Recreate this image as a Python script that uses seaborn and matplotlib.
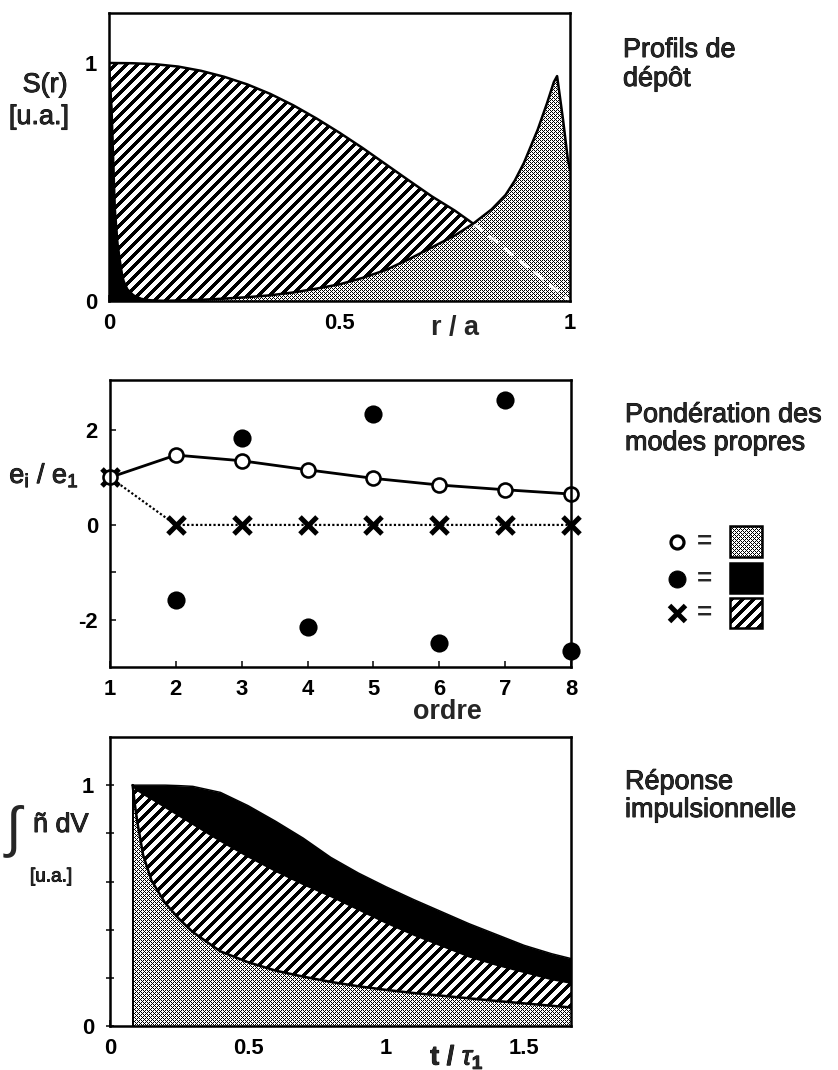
import numpy as np
import matplotlib
matplotlib.use("Agg")
import matplotlib.pyplot as plt
from matplotlib import patheffects
from matplotlib.patches import Rectangle
import seaborn as sns

# ---------------- Profils de dépôt : S(r) ----------------
r_hatch = [0.0, 0.05, 0.1, 0.15, 0.2, 0.25, 0.3, 0.35, 0.4, 0.45, 0.5, 0.55, 0.6,
           0.65, 0.7, 0.75, 0.79, 0.85, 0.9, 0.95, 1.0]
s_hatch = [1.0, 0.999, 0.995, 0.985, 0.967, 0.942, 0.91, 0.87, 0.822, 0.767, 0.707,
           0.643, 0.575, 0.507, 0.44, 0.38, 0.325, 0.235, 0.155, 0.078, 0.0]

r_black = [0.0, 0.003, 0.006, 0.0095, 0.013, 0.019, 0.024, 0.028, 0.032, 0.04,
           0.053, 0.07, 0.09, 0.12]
s_black = [1.0, 0.9, 0.81, 0.6, 0.39, 0.24, 0.17, 0.12, 0.085, 0.05,
           0.025, 0.01, 0.004, 0.0]

r_dots = [0.0, 0.1, 0.15, 0.2, 0.25, 0.3, 0.35, 0.4, 0.45, 0.5, 0.55, 0.6, 0.65,
          0.7, 0.75, 0.79, 0.83, 0.86, 0.88, 0.9, 0.93, 0.95, 0.965, 0.972,
          0.978, 0.985, 0.99, 0.995, 1.0]
s_dots = [0.0, 0.0, 0.002, 0.005, 0.01, 0.016, 0.024, 0.036, 0.052, 0.07, 0.097,
          0.13, 0.175, 0.225, 0.275, 0.325, 0.385, 0.445, 0.505, 0.58, 0.72, 0.83,
          0.92, 0.945, 0.86, 0.76, 0.68, 0.6, 0.55]
r_cross = 0.79  # where the hatched profile passes under the dotted one

# ---------------- Pondération des modes propres ----------------
ordre = [1, 2, 3, 4, 5, 6, 7, 8]
e_open = [1.0, 1.47, 1.35, 1.16, 0.98, 0.84, 0.74, 0.65]
e_cross = [1.0, 0, 0, 0, 0, 0, 0, 0]
ordre_full = [2, 3, 4, 5, 6, 7, 8]
e_full = [-1.58, 1.82, -2.15, 2.34, -2.48, 2.62, -2.65]

# ---------------- Réponse impulsionnelle ----------------
t_resp = [0.082, 0.09, 0.1, 0.12, 0.15, 0.2, 0.25, 0.3, 0.4, 0.5, 0.6, 0.7, 0.8,
          0.9, 1.0, 1.1, 1.2, 1.3, 1.4, 1.5, 1.6, 1.67]
n_dots = [1.0, 0.92, 0.84, 0.71, 0.605, 0.51, 0.445, 0.39, 0.31, 0.265, 0.23, 0.205,
          0.183, 0.165, 0.15, 0.137, 0.126, 0.115, 0.104, 0.094, 0.084, 0.077]
n_hatch = [1.0, 0.99, 0.98, 0.965, 0.945, 0.91, 0.875, 0.84, 0.77, 0.705, 0.645, 0.59,
           0.54, 0.485, 0.43, 0.38, 0.335, 0.29, 0.255, 0.225, 0.195, 0.18]
n_black = [1.0, 1.0, 1.0, 1.0, 1.0, 1.0, 0.998, 0.995, 0.97, 0.915, 0.85, 0.78, 0.70,
           0.635, 0.578, 0.525, 0.475, 0.425, 0.38, 0.335, 0.30, 0.28]

# ---------------- style ----------------
sns.set_theme(style="ticks")
plt.rcParams["font.family"] = ["Liberation Sans", "DejaVu Sans"]
plt.rcParams["mathtext.fontset"] = "custom"
plt.rcParams["mathtext.rm"] = "Liberation Sans"
plt.rcParams["mathtext.it"] = "Liberation Sans:italic"
plt.rcParams["mathtext.bf"] = "Liberation Sans:bold"
plt.rcParams["axes.linewidth"] = 2.5
plt.rcParams["axes.edgecolor"] = "black"

W, H, DPI = 838, 1070, 72
fig = plt.figure(figsize=(W / DPI, H / DPI), dpi=DPI)
fig.patch.set_facecolor("white")

HEAVY = [patheffects.withStroke(linewidth=0.9, foreground="black")]


def box(left, top, right, bottom):
    return [left / W, 1 - bottom / H, (right - left) / W, (bottom - top) / H]


def texture(kind, h_px, w_px):
    """Screen-pixel fill patterns, row 0 at the top: fine dot screen or '/' stripes."""
    i, j = np.mgrid[0:h_px, 0:w_px]
    if kind == "dots":
        dark = ((i + j) % 4 == 0) | ((i - j) % 4 == 0)
    else:
        dark = ((i + j) % 11) < 5
    return np.where(dark[..., None], 0.0, 1.0) * np.ones(3)


def patterned_fill(ax, x, y1, y2, kind, z):
    poly = ax.fill_between(x, y1, y2, facecolor="white", linewidth=0, zorder=z)
    pos = ax.get_position()
    tex = texture(kind, int(round(pos.height * H)), int(round(pos.width * W)))
    x0, x1 = ax.get_xlim()
    y0, y1_ = ax.get_ylim()
    im = ax.imshow(tex, extent=(x0, x1, y0, y1_), origin="upper", aspect="auto",
                   interpolation="nearest", zorder=z + 0.01)
    im.set_clip_path(poly.get_paths()[0], ax.transData)
    ax.set_xlim(x0, x1)
    ax.set_ylim(y0, y1_)


def style_axes(ax):
    ax.set_facecolor("white")
    for s in ax.spines.values():
        s.set_visible(True)
        s.set_linewidth(2.5)
        s.set_color("black")
        s.set_zorder(5)
    ax.tick_params(direction="in", length=6, width=1.5, colors="black", pad=12)
    for lab in ax.get_xticklabels() + ax.get_yticklabels():
        lab.set_fontsize(22)
        lab.set_fontweight("bold")
    ax.set_xlabel("")
    ax.set_ylabel("")


# ---- panel 1 : deposition profiles ----
ax1 = fig.add_axes(box(109, 13, 570, 301))
ax1.set_xlim(0, 1)
ax1.set_ylim(0, 1.21)
patterned_fill(ax1, r_hatch, 0, s_hatch, "stripes", 1)
sns.lineplot(x=r_hatch, y=s_hatch, ax=ax1, color="black", linewidth=2.5, zorder=1.5)
ax1.fill_between(r_black, 0, s_black, color="black", linewidth=0, zorder=2)
sns.lineplot(x=r_black, y=s_black, ax=ax1, color="black", linewidth=2, zorder=2.2)
patterned_fill(ax1, r_dots, 0, s_dots, "dots", 3)
rh = np.asarray(r_hatch)
sh = np.asarray(s_hatch)
tail = rh >= r_cross
sns.lineplot(x=rh[tail], y=sh[tail], ax=ax1, color="white", linewidth=3,
             linestyle=(0, (4, 2.5)), zorder=3.5)
sns.lineplot(x=r_dots, y=s_dots, ax=ax1, color="black", linewidth=2.5, zorder=4)
ax1.set_xlim(0, 1)
ax1.set_ylim(0, 1.21)
ax1.set_xticks([0, 0.5, 1], ["0", "0.5", "1"])
ax1.set_yticks([0, 1], ["0", "1"])
style_axes(ax1)

# ---- panel 2 : eigenmode weights ----
ax2 = fig.add_axes(box(110, 380, 571, 667))
sns.lineplot(x=ordre, y=e_cross, ax=ax2, color="black", linewidth=2.2,
             linestyle=(0, (1, 1)), zorder=2)
sns.scatterplot(x=ordre, y=e_cross, ax=ax2, marker="x", s=290, color="black",
                linewidth=5, zorder=3, clip_on=False)
sns.scatterplot(x=ordre_full, y=e_full, ax=ax2, s=330, color="black",
                edgecolor="black", linewidth=0, zorder=3, clip_on=False)
sns.lineplot(x=ordre, y=e_open, ax=ax2, color="black", linewidth=2.8, marker="o",
             markersize=14, markerfacecolor="white", markeredgecolor="black",
             markeredgewidth=2.6, zorder=4, clip_on=False)
ax2.set_xlim(1, 8)
ax2.set_ylim(-2.99, 3.05)
ax2.set_xticks(ordre, [str(o) for o in ordre])
ax2.set_yticks([-2, -1, 0, 1, 2], ["-2", "", "0", "", "2"])
style_axes(ax2)

# ---- panel 3 : impulse response ----
ax3 = fig.add_axes(box(110, 737, 571, 1026))
ax3.set_xlim(0, 1.67)
ax3.set_ylim(0, 1.2)
patterned_fill(ax3, t_resp, 0, n_dots, "dots", 1)
patterned_fill(ax3, t_resp, n_dots, n_hatch, "stripes", 1)
ax3.fill_between(t_resp, n_hatch, n_black, color="black", linewidth=0, zorder=1)
sns.lineplot(x=t_resp, y=n_dots, ax=ax3, color="black", linewidth=2.5, zorder=2)
sns.lineplot(x=t_resp, y=n_hatch, ax=ax3, color="black", linewidth=2.5, zorder=2)
sns.lineplot(x=t_resp, y=n_black, ax=ax3, color="black", linewidth=1.5, zorder=2)
ax3.vlines(t_resp[0], 0, n_black[0], color="black", linewidth=2, zorder=2)
ax3.set_xlim(0, 1.67)
ax3.set_ylim(0, 1.2)
ax3.set_xticks([0, 0.5, 1, 1.5], ["0", "0.5", "1", "1.5"])
ax3.set_yticks([0, 0.2, 0.4, 0.6, 0.8, 1.0], ["0", "", "", "", "", "1"])
style_axes(ax3)
ax3.tick_params(axis="y", direction="inout", length=8)

# ---- free text, axis titles and key ----
ov = fig.add_axes([0, 0, 1, 1], zorder=10)
ov.set_xlim(0, W)
ov.set_ylim(H, 0)
ov.axis("off")

TXT = 27
for x, y, s in [(623, 57, "Profils de"), (623, 86, "dépôt"),
                (625, 422, "Pondération des"), (625, 450, "modes propres"),
                (625, 789, "Réponse"), (625, 817, "impulsionnelle")]:
    ov.text(x, y, s, fontsize=TXT, ha="left", va="baseline", path_effects=HEAVY)

ov.text(45, 85, "S(r)", fontsize=TXT, ha="center", va="center", path_effects=HEAVY)
ov.text(39, 117, "[u.a.]", fontsize=TXT, ha="center", va="center", path_effects=HEAVY)
ov.text(44, 483, r"$\mathregular{e_i\ /\ e_1}$", fontsize=TXT, ha="center",
        va="baseline", path_effects=HEAVY)
ov.text(13, 831, "∫", fontsize=56, ha="center", va="center")
ov.text(33, 832, "ñ dV", fontsize=TXT, ha="left", va="baseline", path_effects=HEAVY)
ov.text(51, 877, "[u.a.]", fontsize=19, ha="center", va="center", path_effects=HEAVY)

ov.text(455, 328, "r / a", fontsize=27, fontweight="bold", ha="center", va="center")
ov.text(447, 712, "ordre", fontsize=27, fontweight="bold", ha="center", va="center")
ov.text(457, 1057, r"$\mathbf{t\ /\ }\tau_\mathbf{1}$", fontsize=27, ha="center",
        va="center", path_effects=HEAVY)

# key: marker = fill pattern
key_rows = [542, 579, 613]
ov.plot([677], [key_rows[0]], marker="o", markersize=13, markerfacecolor="white",
        markeredgecolor="black", markeredgewidth=3.2, linestyle="none")
ov.plot([677], [key_rows[1]], marker="o", markersize=17, color="black", linestyle="none")
ov.plot([677], [key_rows[2]], marker="x", markersize=16, markeredgewidth=5,
        color="black", linestyle="none")
for y in key_rows:
    ov.text(704, y, "=", fontsize=26, fontweight="bold", ha="center", va="center")

KX, KW = 730, 32
for (top, bottom), kind in [((526, 557), "dots"), ((598, 628), "stripes")]:
    ov.imshow(texture(kind, bottom - top, KW), extent=(KX, KX + KW, bottom, top),
              origin="upper", aspect="auto", interpolation="nearest", zorder=1)
ov.set_xlim(0, W)
ov.set_ylim(H, 0)
ov.add_patch(Rectangle((KX, 526), KW, 31, facecolor="none", edgecolor="black",
                       linewidth=2.5, zorder=2))
ov.add_patch(Rectangle((KX, 563), KW, 30, facecolor="black", edgecolor="black",
                       linewidth=2.5, zorder=2))
ov.add_patch(Rectangle((KX, 598), KW, 30, facecolor="none", edgecolor="black",
                       linewidth=2.5, zorder=2))

fig.savefig("out.png", dpi=DPI, facecolor="white")
